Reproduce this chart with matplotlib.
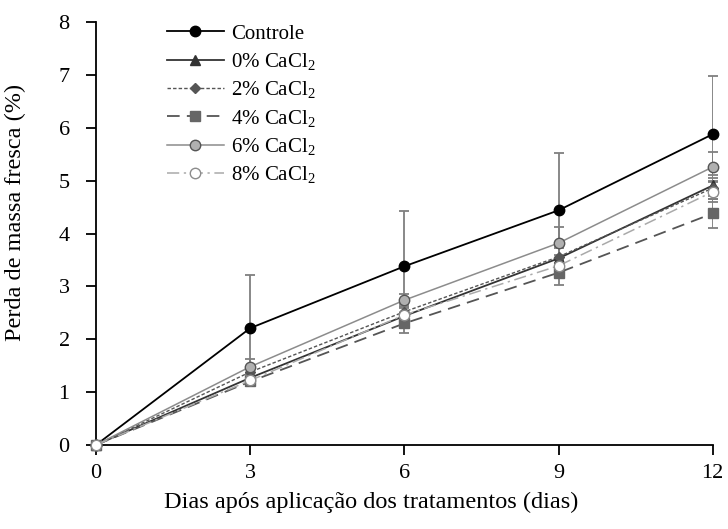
import numpy as np
import matplotlib.pyplot as plt

plt.rcParams['font.family'] = ['Liberation Serif', 'DejaVu Serif']
plt.rcParams['mathtext.fontset'] = 'custom'
plt.rcParams['mathtext.rm'] = 'Liberation Serif'
plt.rcParams['mathtext.it'] = 'Liberation Serif:italic'

dias = [0, 3, 6, 9, 12]

labels = ['Controle', '0% CaCl$_2$', '2% CaCl$_2$', '4% CaCl$_2$', '6% CaCl$_2$', '8% CaCl$_2$']

controle = [0, 2.21, 3.38, 4.44, 5.88]
cacl_0 = [0, 1.27, 2.44, 3.53, 4.91]
cacl_2 = [0, 1.38, 2.52, 3.56, 4.86]
cacl_4 = [0, 1.20, 2.30, 3.26, 4.38]
cacl_6 = [0, 1.48, 2.74, 3.82, 5.26]
cacl_8 = [0, 1.22, 2.46, 3.39, 4.79]

err_controle = [0, 1.0, 1.05, 1.08, 1.1]
err_0 = [0, 0.10, 0.15, 0.20, 0.20]
err_2 = [0, 0.10, 0.15, 0.20, 0.20]
err_4 = [0, 0.09, 0.18, 0.24, 0.27]
err_6 = [0, 0.14, 0.11, 0.30, 0.28]
err_8 = [0, 0.10, 0.15, 0.20, 0.20]

series = [controle, cacl_0, cacl_2, cacl_4, cacl_6, cacl_8]
errors = [err_controle, err_0, err_2, err_4, err_6, err_8]

styles = [
    dict(color='black', ls='-', lw=1.3, marker='o', ms=7.5, mfc='black', mec='black'),
    dict(color='#333333', ls='-', lw=1.3, marker='^', ms=7, mfc='#333333', mec='#333333'),
    dict(color='#555555', ls=(0, (2.5, 1.5)), lw=1.0, marker='D', ms=5, mfc='#555555', mec='#555555'),
    dict(color='#555555', ls=(0, (7, 4)), lw=1.3, marker='s', ms=7.5, mfc='#666666', mec='#666666'),
    dict(color='#8c8c8c', ls='-', lw=1.1, marker='o', ms=7.5, mfc='#b0b0b0', mec='#555555'),
    dict(color='#aaaaaa', ls=(0, (8, 3, 1.5, 3)), lw=1.1, marker='o', ms=7.5, mfc='white', mec='#8c8c8c'),
]

fig = plt.figure(figsize=(7.28, 5.29), dpi=100)
ax = fig.add_axes([0.132, 0.159, 0.847, 0.799])

draw_order = [5, 3, 2, 1, 4, 0]
for i in draw_order:
    ax.errorbar(dias, series[i], yerr=errors[i], fmt='none', ecolor='#7f7f7f',
                elinewidth=1.3, capsize=3.5, capthick=1.3, zorder=2)
for i in draw_order:
    ax.plot(dias, series[i], label=labels[i], zorder=3 + i * 0.1, **styles[i])

ax.set_xlim(0, 12)
ax.set_ylim(0, 8)
ax.set_xticks(dias)
ax.set_yticks(range(0, 9))
ax.spines['top'].set_visible(False)
ax.spines['right'].set_visible(False)
ax.spines['left'].set_linewidth(1.3)
ax.spines['bottom'].set_linewidth(1.3)
ax.tick_params(axis='both', direction='out', length=7, width=1.3, labelsize=16)
ax.tick_params(axis='y', pad=12)
ax.tick_params(axis='x', pad=7)

ax.set_xlabel('Dias após aplicação dos tratamentos (dias)', fontsize=17.5)
ax.set_ylabel('Perda de massa fresca (%)', fontsize=17.5)
ax.xaxis.set_label_coords(0.446, -0.11)
ax.yaxis.set_label_coords(-0.113, 0.55)

handles, lbls = ax.get_legend_handles_labels()
order = [lbls.index(l) for l in labels]
ax.legend([handles[k] for k in order], [lbls[k] for k in order],
          loc='upper left', bbox_to_anchor=(0.085, 1.04), frameon=False,
          fontsize=15, handlelength=2.7, handletextpad=0.35, labelspacing=0.35)

for line in ax.lines:
    line.set_clip_on(False)

fig.savefig('out.png', dpi=100)
